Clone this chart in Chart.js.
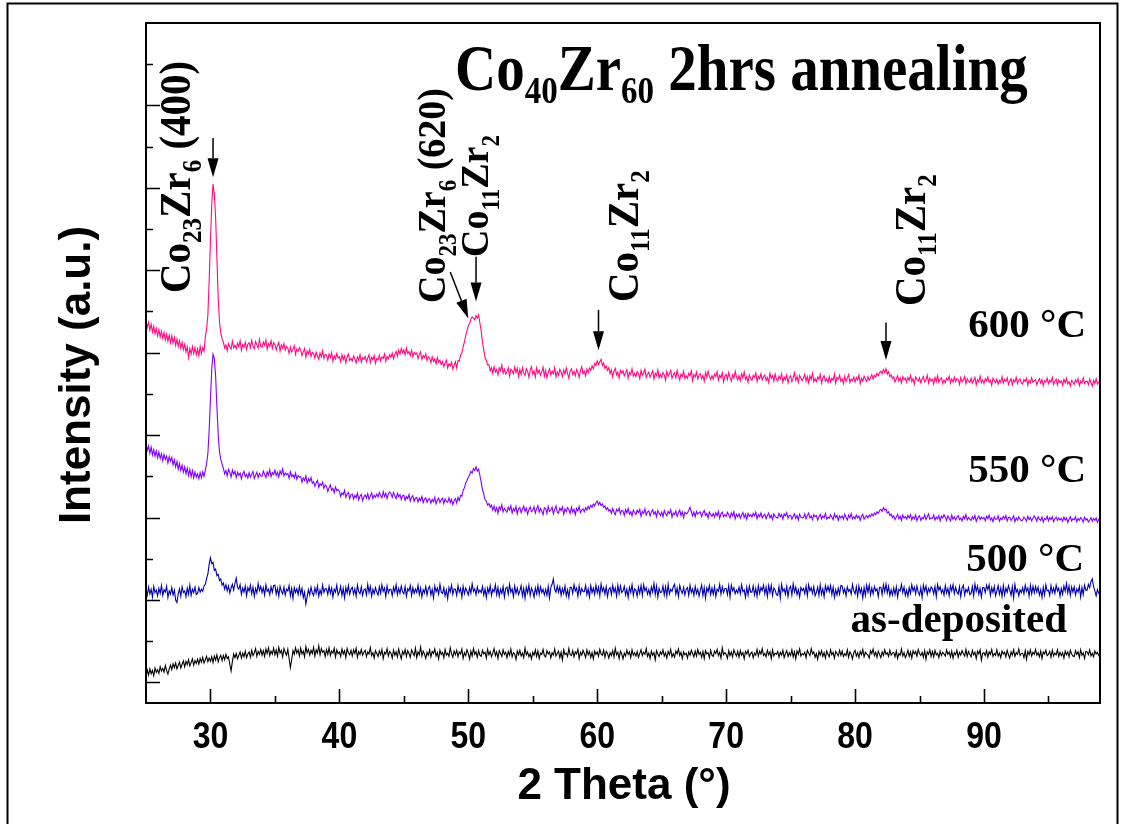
<!DOCTYPE html>
<html>
<head>
<meta charset="utf-8">
<title>Co40Zr60 2hrs annealing – XRD</title>
<script src="https://cdn.jsdelivr.net/npm/chart.js@4.4.1/dist/chart.umd.min.js"></script>
<style>
  html, body { margin: 0; padding: 0; background: #fff; }
  canvas { display: block; }
</style>
</head>
<body>
<canvas id="xrd" width="1123" height="824"></canvas>
<script>
// 2θ grid: 25.0° to 99.0° in 0.1° steps (741 points); one row below = 1°
const twoTheta = Array.from({ length: 741 }, (_, i) => Math.round((25 + i * 0.1) * 10) / 10);

// Intensities (a.u.), curves already offset for stacking
const asDeposited = [
  14, 30, 18, 33, 21, 29, 16, 35, 24, 31,
  22, 38, 27, 34, 25, 41, 29, 20, 33, 42,
  31, 45, 36, 47, 33, 41, 49, 35, 44, 52,
  38, 51, 43, 55, 40, 48, 57, 42, 53, 46,
  56, 44, 58, 49, 61, 47, 55, 63, 50, 59,
  51, 62, 48, 64, 54, 67, 50, 60, 66, 53,
  65, 55, 68, 58, 62, 44, 28, 51, 69, 60,
  70, 57, 66, 74, 59, 71, 62, 76, 60, 69,
  74, 61, 78, 65, 72, 82, 63, 75, 68, 80,
  66, 77, 63, 81, 70, 84, 65, 76, 69, 83,
  67, 79, 64, 85, 71, 78, 62, 82, 73, 66,
  80, 58, 36, 55, 77, 68, 84, 71, 79, 64,
  83, 69, 76, 62, 87, 72, 80, 66, 78, 70,
  85, 64, 79, 71, 89, 67, 82, 73, 77, 63,
  80, 68, 84, 65, 76, 71, 83, 62, 79, 70,
  74, 63, 81, 69, 77, 60, 82, 72, 67, 78,
  64, 79, 70, 83, 61, 75, 68, 80, 66, 73,
  78, 62, 74, 69, 84, 65, 72, 59, 77, 70,
  63, 76, 67, 80, 58, 73, 69, 82, 64, 75,
  71, 59, 78, 66, 74, 62, 81, 68, 57, 75,
  68, 80, 63, 77, 70, 61, 79, 72, 65, 83,
  60, 74, 67, 86, 64, 76, 69, 58, 73, 66,
  79, 62, 75, 70, 81, 64, 72, 57, 78, 68,
  73, 60, 80, 66, 71, 63, 84, 69, 61, 76,
  67, 78, 62, 74, 69, 81, 58, 72, 65, 79,
  70, 57, 76, 64, 82, 68, 74, 61, 77, 66,
  63, 78, 69, 73, 59, 80, 67, 75, 62, 71,
  82, 65, 74, 58, 77, 70, 63, 79, 68, 73,
  60, 75, 66, 81, 62, 72, 69, 56, 76, 67,
  78, 64, 71, 60, 83, 67, 74, 62, 70, 57,
  73, 66, 79, 63, 76, 58, 71, 68, 80, 65,
  62, 77, 69, 74, 59, 72, 66, 81, 64, 70,
  76, 60, 73, 55, 79, 68, 71, 63, 82, 67,
  65, 77, 62, 74, 69, 80, 58, 73, 66, 78,
  70, 61, 79, 67, 75, 60, 72, 57, 76, 68,
  74, 63, 80, 69, 66, 78, 61, 75, 70, 59,
  72, 65, 77, 62, 83, 67, 73, 58, 76, 69,
  57, 71, 64, 78, 68, 74, 60, 79, 66, 72,
  64, 75, 61, 70, 79, 65, 73, 68, 82, 63,
  71, 58, 76, 66, 72, 55, 77, 69, 63, 74,
  68, 79, 64, 72, 59, 75, 67, 80, 62, 70,
  61, 76, 69, 81, 65, 73, 58, 74, 67, 71,
  59, 74, 66, 78, 70, 62, 76, 64, 80, 68,
  73, 61, 75, 58, 77, 69, 72, 60, 78, 66,
  63, 76, 70, 80, 65, 73, 59, 84, 67, 72,
  68, 58, 77, 65, 74, 62, 79, 70, 64, 75,
  61, 77, 66, 72, 57, 75, 69, 78, 63, 70,
  74, 60, 71, 66, 80, 64, 76, 69, 82, 65,
  70, 62, 78, 67, 74, 58, 79, 64, 71, 68,
  75, 61, 73, 66, 78, 60, 70, 77, 63, 72,
  65, 79, 62, 74, 57, 76, 68, 81, 64, 70,
  67, 73, 60, 78, 71, 65, 82, 69, 74, 61,
  70, 56, 75, 66, 77, 63, 72, 59, 76, 68,
  62, 79, 67, 73, 59, 75, 70, 64, 78, 66,
  76, 63, 70, 65, 79, 61, 74, 68, 57, 72,
  78, 64, 72, 60, 75, 67, 80, 62, 73, 69,
  66, 59, 77, 70, 81, 65, 73, 61, 76, 68,
  60, 74, 65, 79, 68, 72, 63, 78, 66, 71,
  73, 62, 76, 58, 70, 66, 81, 64, 72, 60,
  67, 78, 63, 74, 59, 77, 69, 75, 64, 80,
  70, 65, 73, 61, 77, 56, 74, 68, 79, 63,
  75, 62, 78, 67, 71, 60, 76, 65, 73, 69,
  64, 79, 68, 74, 62, 76, 59, 72, 67, 78,
  61, 73, 66, 77, 70, 64, 80, 63, 75, 68,
  62, 78, 67, 73, 58, 76, 69, 79, 54, 71,
  72, 65, 77, 61, 74, 68, 80, 63, 70, 66,
  79, 64, 71, 60, 76, 69, 73, 62, 78, 67,
  59, 74, 66, 79, 63, 72, 68, 81, 65, 70,
  71, 60, 77, 56, 75, 67, 79, 64, 73, 68,
  80, 66, 72, 62, 76, 58, 74, 69, 78, 65,
  68, 75, 61, 78, 64, 71, 67, 79, 63, 73,
  65, 72, 59, 76, 67, 74, 62, 78, 69, 64,
  63, 77, 68, 74, 60, 79, 66, 72, 58, 75,
  74, 67, 79, 64, 71, 62, 76, 69, 73, 65,
  70
];

const annealed500 = [
  229, 212, 231, 215, 226, 207, 233, 218, 224, 210,
  228, 216, 235, 211, 225, 219, 233, 206, 222, 214,
  230, 212, 224, 200, 194, 215, 227, 209, 232, 218,
  222, 208, 229, 214, 236, 211, 226, 218, 231, 213,
  216, 230, 219, 226, 221, 234, 238, 252, 263, 287,
  302, 288, 291, 272, 275, 259, 262, 247, 251, 236,
  241, 226, 237, 222, 234, 217, 229, 238, 224, 240,
  253, 231, 226, 237, 214, 229, 219, 234, 210, 230,
  221, 236, 215, 231, 209, 228, 217, 240, 223, 233,
  218, 230, 212, 237, 221, 226, 213, 232, 219, 235,
  236, 214, 228, 209, 233, 221, 215, 231, 212, 226,
  222, 235, 210, 228, 204, 230, 218, 227, 213, 233,
  214, 228, 206, 219, 190, 208, 225, 212, 231, 217,
  211, 229, 216, 234, 209, 224, 213, 236, 218, 227,
  227, 213, 233, 216, 229, 207, 226, 219, 236, 212,
  219, 233, 211, 228, 205, 230, 217, 235, 214, 226,
  231, 214, 227, 209, 236, 220, 215, 232, 211, 224,
  227, 212, 238, 218, 233, 209, 226, 215, 230, 219,
  212, 232, 216, 237, 221, 229, 208, 234, 217, 226,
  226, 210, 231, 219, 237, 213, 228, 216, 234, 220,
  215, 233, 209, 227, 222, 235, 211, 230, 216, 226,
  218, 236, 213, 229, 207, 225, 217, 233, 212, 228,
  233, 212, 226, 205, 234, 220, 229, 214, 238, 219,
  216, 230, 210, 224, 203, 230, 219, 236, 214, 227,
  226, 211, 235, 219, 228, 207, 233, 215, 229, 221,
  212, 230, 216, 239, 221, 227, 213, 232, 218, 224,
  218, 233, 212, 227, 206, 229, 217, 235, 211, 226,
  220, 237, 213, 230, 209, 226, 216, 233, 207, 228,
  231, 214, 238, 219, 227, 208, 234, 216, 229, 213,
  222, 235, 210, 228, 204, 231, 217, 236, 211, 229,
  221, 207, 229, 215, 235, 213, 232, 218, 226, 212,
  226, 211, 233, 205, 230, 238, 251, 226, 219, 234,
  219, 232, 211, 228, 216, 234, 210, 225, 206, 231,
  231, 216, 237, 222, 229, 209, 234, 215, 228, 220,
  220, 235, 213, 227, 207, 235, 218, 229, 214, 236,
  217, 231, 210, 239, 221, 230, 214, 232, 208, 226,
  230, 213, 236, 219, 229, 209, 236, 215, 234, 218,
  222, 233, 212, 226, 206, 231, 218, 237, 211, 227,
  224, 209, 231, 216, 235, 211, 237, 222, 230, 214,
  225, 211, 232, 219, 240, 213, 234, 207, 228, 218,
  219, 234, 212, 232, 209, 238, 215, 226, 221, 232,
  238, 214, 229, 208, 235, 223, 216, 230, 212, 226,
  230, 211, 236, 218, 227, 211, 233, 216, 226, 209,
  224, 236, 211, 230, 204, 229, 220, 235, 213, 229,
  214, 232, 208, 226, 221, 238, 214, 232, 218, 228,
  228, 213, 235, 207, 236, 222, 230, 215, 224, 217,
  231, 215, 237, 220, 225, 206, 231, 212, 234, 219,
  219, 234, 212, 228, 209, 235, 216, 230, 223, 236,
  215, 231, 208, 235, 218, 236, 211, 229, 224, 213,
  211, 232, 205, 238, 221, 227, 214, 233, 208, 228,
  233, 212, 239, 219, 231, 213, 225, 207, 230, 223,
  228, 215, 234, 210, 237, 222, 230, 216, 232, 210,
  218, 231, 211, 237, 214, 227, 208, 235, 221, 233,
  220, 235, 213, 231, 206, 225, 212, 229, 214, 235,
  234, 217, 227, 210, 232, 221, 226, 214, 238, 222,
  215, 232, 209, 234, 217, 228, 205, 230, 211, 236,
  219, 236, 212, 229, 215, 233, 222, 227, 208, 231,
  231, 213, 237, 220, 239, 217, 233, 210, 225, 212,
  229, 213, 232, 207, 226, 222, 238, 218, 231, 211,
  224, 209, 230, 216, 237, 222, 231, 215, 234, 219,
  212, 230, 206, 236, 221, 234, 214, 228, 219, 232,
  227, 215, 233, 208, 238, 224, 232, 217, 225, 212,
  235, 217, 228, 210, 234, 222, 237, 215, 231, 219,
  214, 232, 208, 229, 236, 212, 226, 219, 230, 213,
  216, 233, 210, 239, 221, 234, 214, 228, 207, 230,
  230, 218, 236, 225, 237, 211, 230, 218, 233, 210,
  222, 235, 214, 229, 208, 235, 212, 229, 219, 235,
  224, 211, 232, 205, 238, 219, 226, 210, 225, 218,
  230, 215, 236, 221, 229, 209, 236, 215, 233, 217,
  233, 219, 231, 212, 225, 206, 231, 212, 237, 222,
  224, 211, 235, 218, 229, 216, 236, 222, 229, 209,
  228, 214, 234, 221, 240, 217, 234, 211, 232, 219,
  232, 212, 227, 219, 233, 207, 230, 213, 236, 224,
  224, 238, 230, 245, 251, 233, 222, 210, 225, 216,
  219
];

const annealed550 = [
  579, 563, 574, 556, 571, 552, 565, 549, 562, 545,
  559, 543, 555, 538, 553, 541, 549, 532, 548, 537,
  546, 528, 540, 523, 536, 517, 531, 514, 527, 510,
  523, 506, 520, 502, 517, 499, 514, 496, 510, 498,
  506, 494, 509, 497, 511, 500, 515, 530, 556, 612,
  688, 760, 796, 785, 744, 668, 602, 560, 541, 530,
  520, 506, 514, 501, 517, 509, 498, 515, 505, 512,
  497, 510, 502, 508, 494, 506, 512, 499, 505, 496,
  509, 498, 506, 512, 495, 503, 510, 497, 507, 501,
  500, 513, 505, 497, 511, 503, 516, 499, 509, 504,
  515, 502, 510, 498, 513, 505, 518, 501, 508, 504,
  507, 495, 511, 499, 504, 496, 508, 493, 502, 498,
  499, 486, 496, 490, 501, 484, 494, 488, 497, 483,
  487, 476, 484, 490, 473, 482, 478, 486, 471, 479,
  476, 463, 472, 479, 466, 471, 460, 474, 465, 468,
  464, 451, 460, 456, 466, 449, 457, 461, 446, 455,
  457, 445, 454, 448, 459, 443, 452, 456, 441, 450,
  455, 447, 458, 444, 452, 460, 446, 454, 449, 457,
  450, 461, 453, 448, 463, 451, 459, 446, 457, 462,
  458, 449, 461, 452, 446, 459, 450, 456, 444, 453,
  454, 442, 451, 446, 456, 440, 449, 453, 439, 447,
  449, 438, 447, 441, 451, 436, 445, 448, 437, 444,
  446, 435, 444, 438, 449, 433, 442, 447, 436, 443,
  447, 434, 445, 439, 437, 448, 436, 444, 431, 441,
  446, 435, 449, 441, 454, 452, 466, 472, 484, 490,
  498, 503, 512, 508, 519, 514, 523, 513, 517, 502,
  486, 468, 457, 443, 440, 430, 434, 425, 430, 418,
  428, 415, 424, 410, 426, 419, 431, 414, 422, 417,
  413, 425, 418, 429, 411, 422, 416, 427, 409, 421,
  424, 412, 420, 428, 415, 423, 408, 419, 426, 414,
  417, 426, 411, 421, 429, 413, 422, 416, 407, 424,
  422, 410, 427, 415, 419, 425, 409, 420, 428, 413,
  411, 423, 417, 426, 408, 421, 414, 424, 419, 410,
  425, 413, 420, 407, 422, 416, 427, 412, 418, 421,
  414, 424, 418, 427, 421, 430, 425, 433, 428, 436,
  440, 431, 437, 429, 433, 425, 428, 419, 424, 416,
  419, 410, 422, 413, 407, 420, 415, 423, 409, 417,
  416, 405, 419, 411, 422, 408, 414, 404, 418, 412,
  407, 418, 412, 420, 403, 415, 410, 421, 406, 414,
  416, 404, 413, 419, 408, 414, 402, 417, 411, 405,
  413, 402, 417, 409, 404, 415, 410, 419, 401, 411,
  407, 416, 403, 412, 418, 405, 414, 400, 413, 409,
  411, 418, 425, 414, 404, 413, 402, 415, 408, 412,
  414, 402, 411, 417, 405, 410, 399, 413, 407, 403,
  410, 401, 412, 404, 415, 398, 409, 413, 402, 407,
  403, 413, 406, 399, 411, 404, 414, 397, 408, 402,
  409, 398, 406, 412, 400, 408, 396, 410, 403, 407,
  401, 410, 404, 413, 397, 407, 402, 411, 399, 405,
  408, 397, 405, 411, 399, 406, 395, 409, 403, 400,
  399, 410, 402, 407, 396, 409, 404, 412, 398, 405,
  406, 396, 403, 409, 398, 405, 394, 408, 401, 399,
  400, 409, 397, 405, 411, 399, 404, 395, 407, 402,
  405, 394, 402, 408, 397, 404, 399, 410, 396, 401,
  398, 407, 401, 395, 409, 400, 405, 393, 404, 399,
  404, 396, 408, 400, 394, 406, 399, 410, 397, 402,
  397, 406, 399, 404, 393, 403, 408, 396, 401, 405,
  399, 406, 402, 409, 404, 411, 407, 414, 410, 417,
  420, 415, 424, 418, 421, 411, 414, 405, 408, 400,
  404, 395, 401, 408, 397, 403, 393, 406, 399, 402,
  396, 405, 399, 407, 394, 402, 397, 406, 392, 401,
  404, 393, 400, 397, 407, 395, 402, 409, 396, 399,
  398, 406, 394, 401, 397, 405, 392, 403, 399, 407,
  401, 393, 404, 398, 392, 406, 396, 402, 394, 400,
  405, 395, 399, 392, 403, 397, 407, 394, 400, 396,
  393, 402, 396, 405, 391, 399, 404, 395, 401, 397,
  400, 392, 403, 397, 406, 394, 399, 390, 402, 396,
  396, 404, 391, 399, 395, 403, 397, 405, 392, 400,
  401, 393, 398, 404, 390, 399, 394, 402, 396, 392,
  394, 401, 397, 391, 403, 395, 400, 392, 398, 404,
  399, 391, 402, 396, 393, 401, 389, 398, 395, 403,
  392, 400, 395, 402, 390, 397, 401, 393, 399, 394,
  398, 391, 401, 394, 399, 388, 396, 402, 392, 397,
  395, 402, 390, 398, 393, 400, 396, 389, 401, 394,
  397, 389, 394, 400, 391, 398, 393, 399, 388, 396,
  397
];

const annealed600 = [
  878, 861, 874, 855, 869, 850, 864, 846, 859, 841,
  856, 838, 852, 835, 849, 831, 845, 828, 842, 824,
  841, 823, 837, 818, 833, 815, 829, 811, 825, 808,
  820, 802, 814, 788, 810, 797, 815, 798, 812, 795,
  809, 793, 815, 798, 812, 804, 838, 857, 892, 975,
  1072, 1160, 1209, 1185, 1128, 1030, 932, 875, 848, 834,
  826, 811, 819, 805, 822, 814, 809, 828, 812, 818,
  810, 823, 815, 829, 806, 819, 813, 825, 808, 821,
  824, 812, 830, 816, 809, 827, 819, 811, 832, 815,
  813, 826, 818, 831, 808, 822, 815, 829, 811, 824,
  820, 807, 817, 825, 804, 819, 811, 822, 806, 815,
  811, 798, 814, 802, 808, 817, 796, 809, 803, 812,
  806, 793, 802, 810, 789, 804, 797, 808, 791, 801,
  798, 787, 801, 792, 784, 799, 790, 805, 786, 796,
  794, 782, 797, 788, 800, 779, 793, 785, 798, 787,
  790, 778, 795, 783, 792, 775, 789, 797, 781, 786,
  780, 792, 785, 775, 790, 782, 795, 777, 788, 784,
  791, 778, 787, 795, 776, 789, 783, 793, 774, 786,
  783, 794, 780, 790, 786, 797, 779, 791, 785, 795,
  789, 799, 785, 796, 803, 791, 806, 797, 810, 800,
  807, 795, 811, 798, 803, 793, 806, 790, 801, 796,
  799, 786, 795, 802, 784, 793, 788, 797, 781, 790,
  787, 776, 790, 779, 785, 773, 788, 777, 782, 771,
  778, 766, 775, 782, 763, 773, 768, 777, 760, 770,
  778, 763, 781, 780, 794, 799, 814, 826, 842, 853,
  866, 870, 881, 887, 884, 880, 890, 884, 892, 872,
  853, 826, 806, 789, 781, 770, 771, 756, 764, 750,
  766, 753, 759, 746, 763, 756, 770, 750, 760, 748,
  753, 763, 743, 760, 756, 749, 765, 752, 762, 742,
  759, 747, 764, 751, 745, 761, 755, 740, 757, 766,
  748, 756, 741, 763, 750, 758, 745, 754, 765, 743,
  757, 739, 752, 761, 746, 755, 749, 764, 741, 753,
  745, 760, 753, 742, 758, 748, 763, 750, 738, 756,
  761, 747, 754, 744, 759, 752, 740, 757, 766, 749,
  755, 744, 760, 751, 763, 757, 768, 761, 774, 769,
  780, 771, 778, 784, 769, 775, 762, 768, 757, 764,
  749, 758, 741, 755, 762, 746, 753, 739, 757, 750,
  756, 744, 751, 759, 738, 752, 747, 761, 743, 750,
  742, 754, 749, 737, 757, 745, 752, 760, 740, 748,
  753, 741, 748, 756, 736, 750, 744, 758, 739, 747,
  740, 752, 746, 733, 755, 743, 749, 757, 738, 746,
  751, 739, 757, 745, 734, 748, 742, 755, 737, 744,
  738, 750, 744, 756, 732, 747, 741, 753, 736, 746,
  749, 737, 745, 731, 752, 740, 755, 743, 735, 744,
  736, 748, 742, 754, 733, 745, 739, 751, 729, 743,
  747, 735, 752, 740, 731, 746, 738, 755, 741, 734,
  744, 732, 749, 739, 753, 735, 742, 728, 746, 738,
  733, 745, 740, 751, 730, 743, 737, 749, 734, 741,
  746, 732, 740, 728, 750, 738, 744, 731, 748, 736,
  731, 743, 736, 749, 729, 741, 734, 746, 727, 740,
  744, 730, 739, 751, 733, 742, 728, 745, 738, 732,
  739, 748, 731, 742, 727, 744, 735, 750, 730, 737,
  730, 741, 735, 747, 726, 739, 744, 731, 737, 728,
  742, 729, 738, 733, 748, 726, 740, 736, 745, 731,
  737, 725, 743, 730, 739, 747, 728, 736, 732, 741,
  729, 740, 734, 746, 725, 738, 731, 743, 736, 730,
  742, 733, 740, 747, 736, 745, 741, 750, 744, 752,
  755, 749, 759, 752, 761, 748, 754, 742, 746, 737,
  741, 729, 736, 744, 731, 739, 727, 742, 734, 738,
  728, 740, 733, 745, 730, 737, 724, 741, 735, 731,
  739, 727, 736, 742, 729, 734, 745, 726, 738, 731,
  736, 724, 740, 730, 744, 728, 735, 739, 725, 734,
  727, 738, 733, 743, 726, 736, 729, 741, 730, 737,
  735, 723, 739, 729, 734, 742, 725, 737, 731, 728,
  738, 726, 733, 740, 722, 735, 729, 743, 727, 734,
  725, 737, 731, 741, 728, 733, 721, 738, 732, 727,
  736, 724, 733, 728, 742, 726, 735, 730, 739, 723,
  731, 737, 722, 734, 729, 740, 725, 733, 736, 726,
  724, 735, 730, 738, 721, 733, 727, 739, 728, 732,
  734, 722, 731, 737, 726, 735, 720, 732, 729, 738,
  725, 733, 728, 740, 723, 731, 736, 722, 734, 727,
  732, 721, 735, 727, 738, 724, 730, 719, 733, 729,
  723, 734, 728, 737, 720, 731, 726, 739, 725, 730,
  731, 722, 736, 727, 719, 733, 725, 737, 724, 729,
  727
];

const xTickLabels = [30, 40, 50, 60, 70, 80, 90];

const seriesNames = ['as-deposited', '500 °C', '550 °C', '600 °C'];
const seriesColors = ['#000000', '#0000a8', '#8000ff', '#ff0a80'];
const seriesValues = [asDeposited, annealed500, annealed550, annealed600];

// Peak markers: [tail 2θ, tail intensity, tip 2θ, tip intensity]
const peakArrows = [
  [30.2, 1321, 30.2, 1226],
  [48.6, 996, 50.0, 883],
  [50.6, 1033, 50.6, 924],
  [60.1, 904, 60.1, 806],
  [82.4, 873, 82.4, 782]
];

// Phase labels, read bottom-to-top; parts are [text, isSubscript]
const phaseLabels = [
  { x: 190, y: 293, size: 41, parts: [['Co', 0], ['23', 1], ['Zr', 0], ['6', 1], [' (400)', 0]] },
  { x: 445, y: 303, size: 38, parts: [['Co', 0], ['23', 1], ['Zr', 0], ['6', 1], [' (620)', 0]] },
  { x: 488, y: 257, size: 38, parts: [['Co', 0], ['11', 1], ['Zr', 0], ['2', 1]] },
  { x: 638, y: 302, size: 41, parts: [['Co', 0], ['11', 1], ['Zr', 0], ['2', 1]] },
  { x: 925, y: 306, size: 41, parts: [['Co', 0], ['11', 1], ['Zr', 0], ['2', 1]] }
];

const curveLabels = [
  { text: '600 °C', x: 1086, y: 337 },
  { text: '550 °C', x: 1086, y: 482 },
  { text: '500 °C', x: 1084, y: 571 },
  { text: 'as-deposited', x: 1067, y: 632 }
];

const SERIF = '"Liberation Serif", "Times New Roman", serif';
const SANS = '"Liberation Sans", Arial, sans-serif';

function drawRich(ctx, parts, mainPx, subPx, subShift) {
  let cx = 0;
  for (const [t, sub] of parts) {
    ctx.font = `bold ${sub ? subPx : mainPx}px ${SERIF}`;
    ctx.fillText(t, cx, sub ? subShift : 0);
    cx += ctx.measureText(t).width;
  }
}

const decorations = {
  id: 'decorations',
  afterDraw(chart) {
    const { ctx, chartArea: a, scales: { x, y } } = chart;
    ctx.save();
    ctx.fillStyle = '#000';
    ctx.strokeStyle = '#000';

    // outer figure border
    ctx.lineWidth = 2;
    ctx.beginPath();
    ctx.moveTo(7.5, 824); ctx.lineTo(7.5, 3.5); ctx.lineTo(1117.5, 3.5); ctx.lineTo(1117.5, 824);
    ctx.stroke();

    // plot frame
    ctx.strokeRect(a.left, a.top, a.right - a.left, a.bottom - a.top);

    // inward ticks
    ctx.lineWidth = 1.6;
    ctx.beginPath();
    for (let v = 30; v < 99; v += 5) {
      const px = Math.round(x.getPixelForValue(v)) + 0.5;
      const len = v % 10 === 0 ? 14 : 7;
      ctx.moveTo(px, a.bottom); ctx.lineTo(px, a.bottom - len);
    }
    for (let v = 0; v < 1600; v += 100) {
      const py = Math.round(y.getPixelForValue(v)) + 0.5;
      const len = v % 200 === 0 ? 14 : 7;
      ctx.moveTo(a.left, py); ctx.lineTo(a.left + len, py);
    }
    ctx.stroke();

    // x tick labels
    ctx.textAlign = 'center';
    ctx.textBaseline = 'alphabetic';
    ctx.font = `bold 32px ${SANS}`;
    for (const v of xTickLabels) {
      ctx.save();
      ctx.translate(x.getPixelForValue(v), 748);
      ctx.scale(1, 1.16);
      ctx.fillText(String(v), 0, 0);
      ctx.restore();
    }

    // axis titles
    ctx.font = `bold 44px ${SANS}`;
    ctx.fillText('2 Theta (°)', 624, 799);
    ctx.save();
    ctx.translate(90, 375);
    ctx.rotate(-Math.PI / 2);
    ctx.fillText('Intensity (a.u.)', 0, 0);
    ctx.restore();

    // chart title
    ctx.textAlign = 'left';
    ctx.save();
    ctx.translate(455, 90);
    ctx.scale(1, 1.15);
    drawRich(ctx, [['Co', 0], ['40', 1], ['Zr', 0], ['60', 1], [' 2hrs annealing', 0]], 57, 33, 11);
    ctx.restore();

    // phase labels (rotated)
    for (const lab of phaseLabels) {
      ctx.save();
      ctx.translate(lab.x, lab.y);
      ctx.rotate(-Math.PI / 2);
      ctx.scale(1, 1.08);
      drawRich(ctx, lab.parts, lab.size, Math.round(lab.size * 0.61), 10);
      ctx.restore();
    }

    // peak arrows
    ctx.lineWidth = 1.5;
    for (const [x0, y0, x1, y1] of peakArrows) {
      const ax = x.getPixelForValue(x0), ay = y.getPixelForValue(y0);
      const bx = x.getPixelForValue(x1), by = y.getPixelForValue(y1);
      const ang = Math.atan2(by - ay, bx - ax);
      const hl = 19, hw = 5.5;
      const baseX = bx - hl * Math.cos(ang), baseY = by - hl * Math.sin(ang);
      ctx.beginPath();
      ctx.moveTo(ax, ay); ctx.lineTo(baseX, baseY);
      ctx.stroke();
      ctx.beginPath();
      ctx.moveTo(bx, by);
      ctx.lineTo(baseX + hw * Math.sin(ang), baseY - hw * Math.cos(ang));
      ctx.lineTo(baseX - hw * Math.sin(ang), baseY + hw * Math.cos(ang));
      ctx.closePath();
      ctx.fill();
    }

    // curve labels
    ctx.textAlign = 'right';
    ctx.font = `bold 41px ${SERIF}`;
    for (const c of curveLabels) ctx.fillText(c.text, c.x, c.y);

    ctx.restore();
  }
};

const whiteBackground = {
  id: 'whiteBackground',
  beforeDraw(chart) {
    const { ctx, width, height } = chart;
    ctx.save();
    ctx.fillStyle = '#fff';
    ctx.fillRect(0, 0, width, height);
    ctx.restore();
  }
};

new Chart(document.getElementById('xrd'), {
  type: 'line',
  data: {
    datasets: seriesValues.map((vals, k) => ({
      label: seriesNames[k],
      data: vals.map((v, i) => ({ x: twoTheta[i], y: v })),
      borderColor: seriesColors[k],
      borderWidth: 1.1,
      pointRadius: 0,
      tension: 0,
      fill: false
    }))
  },
  options: {
    responsive: false,
    animation: false,
    devicePixelRatio: 1,
    layout: { padding: { left: 146, top: 23, right: 23, bottom: 121 } },
    plugins: { legend: { display: false }, tooltip: { enabled: false } },
    scales: {
      x: { type: 'linear', min: 25, max: 99, display: false },
      y: { type: 'linear', min: -50, max: 1600, display: false }
    }
  },
  plugins: [whiteBackground, decorations]
});
</script>
</body>
</html>
